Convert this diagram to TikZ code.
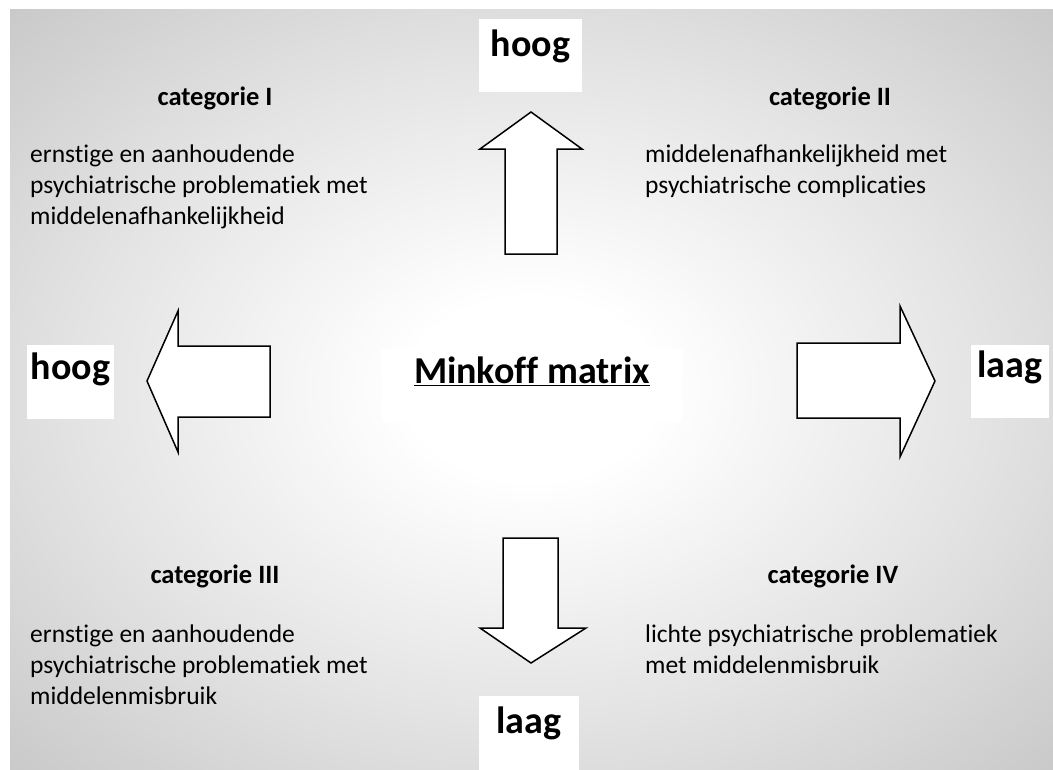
\documentclass[tikz,border=0pt]{standalone}
\usepackage{fontspec}
\setmainfont[Ligatures=NoCommon]{Carlito}
\usetikzlibrary{positioning}

\pgfdeclareradialshading{matrixbg}{\pgfpoint{0bp}{0bp}}{color(0bp)=(white); color(6bp)=(white); color(22bp)=(gray!22); color(34bp)=(gray!40); color(42bp)=(gray!50); color(50bp)=(gray!50)}

\tikzset{
  blockarrow/.style={draw=black, fill=white, line width=1.5pt, line join=miter},
  axisbox/.style={fill=white, inner sep=0pt, anchor=north, align=center,
    font=\bfseries\fontsize{38}{45}\selectfont},
  cathead/.style={inner sep=0pt, anchor=base, font=\bfseries\fontsize{26.5}{31}\selectfont},
  cattext/.style={inner sep=0pt, anchor=base west, align=left, font=\fontsize{25.5}{31}\selectfont}
}

\begin{document}
\begin{tikzpicture}[x=1pt, y=-1pt]
  \clip (0,0) rectangle (1053,769);
  % background
  \shade[shading=matrixbg] (10,9) rectangle (1053,769);

  % arrows
  \draw[blockarrow] (531,112) -- (582,149) -- (557,149) -- (557,254) -- (505,254) -- (505,149) -- (480,149) -- cycle;
  \draw[blockarrow] (531,663) -- (586,628) -- (558,628) -- (558,538) -- (503,538) -- (503,628) -- (480,628) -- cycle;
  \draw[blockarrow] (147,381) -- (178,311) -- (178,346) -- (270,346) -- (270,417) -- (178,417) -- (178,452) -- cycle;
  \draw[blockarrow] (935,381) -- (900,306) -- (900,343) -- (797,343) -- (797,418) -- (900,418) -- (900,457) -- cycle;

  % axis labels
  \node[axisbox, minimum width=103pt, text height=37pt, text depth=36pt] (hoogtop) at (530.5,19) {hoog};
  \node[axisbox, minimum width=87pt, text height=34pt, text depth=40pt] (hoogleft) at (70.5,345) {hoog};
  \node[axisbox, minimum width=78pt, text height=32pt, text depth=41pt] (laagright) at (1010,345) {laag};
  \node[axisbox, minimum width=100pt, text height=37pt, text depth=39pt] (laagbottom) at (529,696) {laag};
  \node[axisbox, minimum width=300pt, text height=34pt, text depth=39pt] (minkoff) at (532,349) {\underline{Minkoff matrix}};

  % categories (anchor is the last line's baseline)
  \node[cathead] (cat1) at (215,105) {categorie I};
  \node[cattext] (cat1text) at (30,224) {ernstige en aanhoudende\\psychiatrische problematiek met\\middelenafhankelijkheid};
  \node[cathead] (cat2) at (830,105) {categorie II};
  \node[cattext] (cat2text) at (645,193) {middelenafhankelijkheid met\\psychiatrische complicaties};
  \node[cathead] (cat3) at (215,583) {categorie III};
  \node[cattext] (cat3text) at (30,704) {ernstige en aanhoudende\\psychiatrische problematiek met\\middelenmisbruik};
  \node[cathead] (cat4) at (833,583) {categorie IV};
  \node[cattext] (cat4text) at (645,673) {lichte psychiatrische problematiek\\met middelenmisbruik};
\end{tikzpicture}
\end{document}
